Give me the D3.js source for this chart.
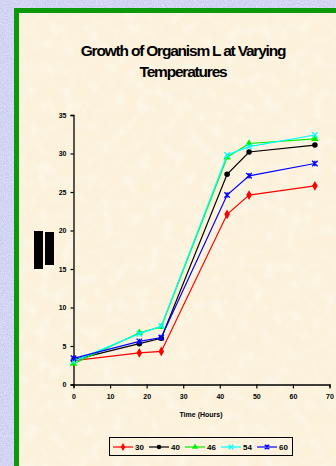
<!DOCTYPE html>
<html>
<head>
<meta charset="utf-8">
<script src="https://cdn.jsdelivr.net/npm/d3@7"></script>
<style>
  html, body { margin: 0; padding: 0; background: #c8d1f2; }
  svg { display: block; }
  text { font-family: "Liberation Sans", Arial, sans-serif; }
</style>
</head>
<body>
<script>
// Sampling times (hours)
const hours = [0, 18, 24, 42, 48, 66];
// Growth readings per incubation temperature
const temps = ["30", "40", "46", "54", "60"];
const growth30 = [3.1, 4.1, 4.3, 22.1, 24.6, 25.8];
const growth40 = [3.2, 5.3, 6.0, 27.3, 30.2, 31.1];
const growth46 = [2.7, 6.7, 7.5, 29.5, 31.3, 31.9];
const growth54 = [3.0, 6.6, 7.6, 29.8, 30.9, 32.4];
const growth60 = [3.4, 5.6, 6.1, 24.6, 27.1, 28.7];
const xTicks = [0, 10, 20, 30, 40, 50, 60, 70];
const yTicks = [0, 5, 10, 15, 20, 25, 30, 35];

const seriesValues = [growth30, growth40, growth46, growth54, growth60];
const colors = ["#ff0000", "#000000", "#00ee00", "#00ffff", "#0000ff"];
const markers = ["diamond", "circle", "triangle", "x", "star"];

const W = 336, H = 466;
const svg = d3.select("body").append("svg").attr("width", W).attr("height", H);

// speckled backdrop
const defs = svg.append("defs");
const f = defs.append("filter").attr("id", "speckle").attr("x", 0).attr("y", 0).attr("width", "100%").attr("height", "100%");
f.append("feTurbulence").attr("type", "fractalNoise").attr("baseFrequency", 0.9).attr("numOctaves", 2).attr("seed", 3).attr("result", "noise");
f.append("feColorMatrix").attr("in", "noise").attr("type", "matrix")
  .attr("values", "0 0 0 0 0.95  0 0 0 0 0.82  0 0 0 0 0.95  1.4 0 0 0 -0.5").attr("result", "spots");
f.append("feComposite").attr("in", "spots").attr("in2", "SourceGraphic").attr("operator", "in").attr("result", "sp");
f.append("feMerge").call(m => { m.append("feMergeNode").attr("in", "SourceGraphic"); m.append("feMergeNode").attr("in", "sp"); });

const f2 = defs.append("filter").attr("id", "paper").attr("x", 0).attr("y", 0).attr("width", "100%").attr("height", "100%");
f2.append("feTurbulence").attr("type", "fractalNoise").attr("baseFrequency", 0.08).attr("numOctaves", 2).attr("seed", 7).attr("result", "noise");
f2.append("feColorMatrix").attr("in", "noise").attr("type", "matrix")
  .attr("values", "0 0 0 0 1  0 0 0 0 0.99  0 0 0 0 0.93  1 0 0 0 -0.45").attr("result", "spots");
f2.append("feComposite").attr("in", "spots").attr("in2", "SourceGraphic").attr("operator", "in").attr("result", "sp");
f2.append("feMerge").call(m => { m.append("feMergeNode").attr("in", "SourceGraphic"); m.append("feMergeNode").attr("in", "sp"); });

svg.append("rect").attr("width", W).attr("height", H).attr("fill", "#c6cff2").attr("filter", "url(#speckle)");

// green frame and cream panel
svg.append("rect").attr("x", 14).attr("y", 8).attr("width", W - 14).attr("height", H - 8).attr("fill", "#0a9a0a");
svg.append("rect").attr("x", 19).attr("y", 13).attr("width", W - 19).attr("height", H - 13).attr("fill", "#fcf2dc").attr("filter", "url(#paper)");

// title
const title = svg.append("text").attr("text-anchor", "middle").attr("font-weight", "bold")
  .attr("font-size", 15.5).attr("letter-spacing", -1.2).attr("fill", "#000");
title.append("tspan").attr("x", 183).attr("y", 56).text("Growth of Organism L at Varying");
title.append("tspan").attr("x", 183).attr("y", 77).text("Temperatures");

// y-axis title blocks
svg.append("rect").attr("x", 34).attr("y", 231).attr("width", 9).attr("height", 38).attr("fill", "#000");
svg.append("rect").attr("x", 45).attr("y", 232).attr("width", 9).attr("height", 33).attr("fill", "#000");

const x = d3.scaleLinear().domain([0, 70]).range([73.5, 329.5]);
const y = d3.scaleLinear().domain([0, 35]).range([384.5, 115]);

const xAxis = svg.append("g").attr("transform", `translate(0,${y(0)})`)
  .call(d3.axisBottom(x).tickValues(xTicks).tickSize(3).tickPadding(7));
const yAxis = svg.append("g").attr("transform", `translate(${x(0)},0)`)
  .call(d3.axisLeft(y).tickValues(yTicks).tickSize(3).tickPadding(4));
[xAxis, yAxis].forEach(a => {
  a.select(".domain").attr("stroke", "#000").attr("stroke-width", 1.3);
  a.selectAll(".tick line").attr("stroke", "#000").attr("stroke-width", 1.2);
  a.selectAll("text").attr("font-size", 7).attr("font-weight", "bold").attr("fill", "#000")
    .attr("font-family", "'Liberation Sans', Arial, sans-serif");
});
xAxis.selectAll(".tick line").attr("y2", 4);

svg.append("text").attr("x", 201).attr("y", 417).attr("text-anchor", "middle")
  .attr("font-size", 7).attr("font-weight", "bold").text("Time (Hours)");

function drawMarker(g, type, color, cx, cy, s) {
  if (type === "diamond") {
    g.append("path").attr("d", d3.symbol(d3.symbolDiamond, s * s * 0.9)()).attr("transform", `translate(${cx},${cy})`).attr("fill", color);
  } else if (type === "circle") {
    g.append("circle").attr("cx", cx).attr("cy", cy).attr("r", s / 2).attr("fill", color);
  } else if (type === "triangle") {
    g.append("path").attr("d", d3.symbol(d3.symbolTriangle, s * s * 0.8)()).attr("transform", `translate(${cx},${cy})`).attr("fill", color);
  } else if (type === "x") {
    const r = s / 2;
    g.append("path").attr("d", `M${cx - r},${cy - r}L${cx + r},${cy + r}M${cx - r},${cy + r}L${cx + r},${cy - r}`)
      .attr("stroke", color).attr("stroke-width", 1.3);
  } else {
    const r = s / 2;
    g.append("path").attr("d", `M${cx - r},${cy - r}L${cx + r},${cy + r}M${cx - r},${cy + r}L${cx + r},${cy - r}M${cx},${cy - r}L${cx},${cy + r}`)
      .attr("stroke", color).attr("stroke-width", 1.3);
  }
}

const line = d3.line().x((d, i) => x(hours[i])).y(d => y(d));
seriesValues.forEach((vals, k) => {
  const g = svg.append("g");
  g.append("path").datum(vals).attr("d", line).attr("fill", "none").attr("stroke", colors[k]).attr("stroke-width", 1.2);
  vals.forEach((v, i) => drawMarker(g, markers[k], colors[k], x(hours[i]), y(v), 5.5));
});

// legend
const lg = svg.append("g");
lg.append("rect").attr("x", 109.5).attr("y", 437.5).attr("width", 183).attr("height", 18)
  .attr("fill", "none").attr("stroke", "#000").attr("stroke-width", 1);
const legendX = [113, 149, 185, 221, 257];
temps.forEach((t, k) => {
  const lx = legendX[k], ly = 447;
  lg.append("line").attr("x1", lx).attr("x2", lx + 20).attr("y1", ly).attr("y2", ly).attr("stroke", colors[k]).attr("stroke-width", 1.2);
  drawMarker(lg, markers[k], colors[k], lx + 10, ly, 4.5);
  lg.append("text").attr("x", lx + 22).attr("y", ly + 3).attr("font-size", 8).attr("font-weight", "bold").text(t);
});
</script>
</body>
</html>
